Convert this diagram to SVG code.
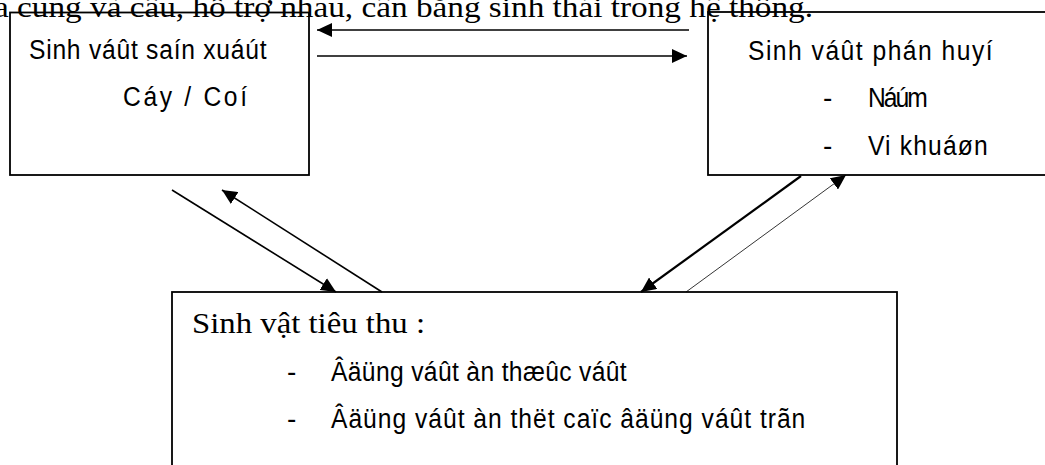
<svg xmlns="http://www.w3.org/2000/svg" width="1045" height="465" viewBox="0 0 1045 465">
  <style>
    .box { fill: #fff; stroke: #000; stroke-width: 1.8; }
    .sans { font-family: "Liberation Sans", Arial, sans-serif; font-size: 28px; fill: #000; }
    .serif { font-family: "Liberation Serif", "Times New Roman", serif; font-size: 30px; fill: #000; }
    .link { stroke: #000; stroke-width: 1.6; fill: none; }
    .thick { stroke-width: 2.2; }
    .thin { stroke-width: 0.8; }
  </style>
  <defs>
    <marker id="ah" markerUnits="userSpaceOnUse" markerWidth="16" markerHeight="14" refX="15" refY="7" orient="auto">
      <path d="M0,0 L15,7 L0,14 z" fill="#000"/>
    </marker>
  </defs>

  <rect width="1045" height="465" fill="#fff"/>

  <!-- producers (sans labels are set slightly condensed: scale 0.88 horizontally) -->
  <g id="producer">
    <rect class="box" x="10" y="12.5" width="299" height="162.5"/>
    <text class="sans" transform="translate(29,59) scale(0.88,1)" textLength="270" lengthAdjust="spacing">Sinh váût saín xuáút</text>
    <text class="sans" transform="translate(123,106) scale(0.88,1)" textLength="141" lengthAdjust="spacing">Cáy / Coí</text>
  </g>

  <!-- decomposers -->
  <g id="decomposer">
    <rect class="box" x="708" y="12" width="345" height="163"/>
    <text class="sans" transform="translate(748,60) scale(0.88,1)" textLength="278" lengthAdjust="spacing">Sinh váût phán huyí</text>
    <text class="sans" x="823" y="107">-</text>
    <text class="sans" transform="translate(868,107) scale(0.88,1)" textLength="68" lengthAdjust="spacing">Náúm</text>
    <text class="sans" x="823" y="155">-</text>
    <text class="sans" transform="translate(868,155) scale(0.88,1)" textLength="136" lengthAdjust="spacing">Vi khuáøn</text>
  </g>

  <!-- consumers -->
  <g id="consumer">
    <rect class="box" x="172" y="292" width="725" height="190"/>
    <text class="serif" x="192" y="333" font-size="31" textLength="233" lengthAdjust="spacingAndGlyphs">Sinh vật tiêu thu :</text>
    <text class="sans" x="287" y="381">-</text>
    <text class="sans" transform="translate(331,381) scale(0.88,1)" textLength="336" lengthAdjust="spacing">Âäüng váût àn thæûc váût</text>
    <text class="sans" x="287" y="428">-</text>
    <text class="sans" transform="translate(331,428) scale(0.88,1)" textLength="539" lengthAdjust="spacing">Âäüng váût àn thët caïc âäüng váût trãn</text>
  </g>

  <!-- caption line running across the top -->
  <text id="caption" class="serif" x="-6" y="17" textLength="819" lengthAdjust="spacingAndGlyphs">a cung và cầu, hỗ trợ nhau, cân bằng sinh thái trong hệ thống.</text>

  <!-- connectors -->
  <g id="connectors">
    <line class="link" x1="689" y1="30" x2="317" y2="30" marker-end="url(#ah)"/>
    <line class="link" x1="317" y1="56" x2="687" y2="56" marker-end="url(#ah)"/>
    <line class="link" x1="172" y1="190" x2="336" y2="292" marker-end="url(#ah)"/>
    <line class="link" x1="382" y1="292" x2="222" y2="190" marker-end="url(#ah)"/>
    <line class="link thick" x1="801" y1="176" x2="641" y2="292" marker-end="url(#ah)"/>
    <line class="link thin" x1="686" y1="292" x2="846" y2="175" marker-end="url(#ah)"/>
  </g>
</svg>
